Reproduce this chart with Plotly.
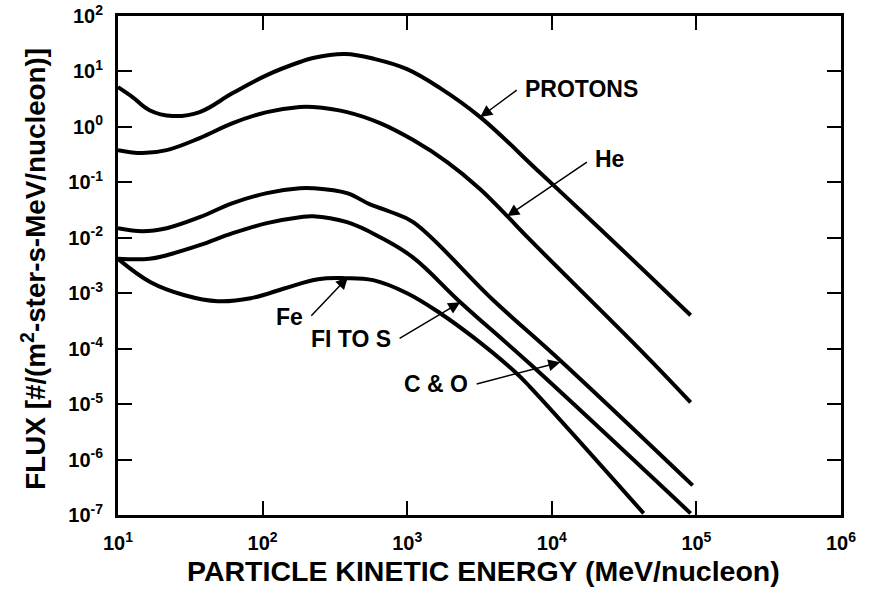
import plotly.graph_objects as go

# ---------------- data ----------------
protons_E = [10, 12.6, 16.5, 23.9, 36.7, 62.1, 107, 181, 223, 372, 600, 998, 1690, 3200, 8340, 21700, 91200]
protons_F = [5.2, 3.45, 2.0, 1.57, 1.85, 4.07, 8.6, 14.8, 17.5, 20.6, 16.7, 11.0, 5.0, 1.50, 0.147, 0.0143, 4.0e-4]

he_E = [10, 14.8, 21.7, 36.7, 62.1, 107, 181, 223, 384, 649, 1100, 1890, 3200, 4920, 7110, 42500, 91200]
he_F = [0.381, 0.337, 0.381, 0.628, 1.17, 1.85, 2.28, 2.28, 1.85, 1.17, 0.578, 0.232, 0.0753, 0.0245,
        9.06e-3, 8.6e-5, 1.08e-5]

co_E = [10, 14.8, 21.7, 36.7, 62.1, 107, 181, 223, 384, 553, 762, 1100, 3940, 11800, 94200]
co_F = [0.0149, 0.01315, 0.0149, 0.0235, 0.0422, 0.0638, 0.0785, 0.0785, 0.0638, 0.0400, 0.0295, 0.0191,
        7.48e-4, 5.69e-5, 3.42e-7]

fis_E = [10, 16.5, 21.7, 36.7, 62.1, 107, 181, 223, 384, 649, 1100, 2330, 7110, 91200]
fis_F = [4.17e-3, 4.17e-3, 4.85e-3, 7.35e-3, 0.0121, 0.01837, 0.0235, 0.0245, 0.0191, 0.01026, 4.4e-3,
         6.89e-4, 5.22e-5, 1.07e-7]

fe_E = [10, 16.8, 28.9, 49.0, 82.8, 143, 242, 372, 581, 998, 1690, 2860, 5600, 7110, 43200]
fe_F = [4.17e-3, 1.58e-3, 9.2e-4, 7.18e-4, 8.13e-4, 1.23e-3, 1.79e-3, 1.87e-3, 1.72e-3, 1.0e-3, 4.36e-4,
        1.61e-4, 3.75e-5, 2.01e-5, 1.07e-7]

series = [("PROTONS", protons_E, protons_F), ("He", he_E, he_F), ("C & O", co_E, co_F),
          ("FI TO S", fis_E, fis_F), ("Fe", fe_E, fe_F)]

x_tickvals = [1e1, 1e2, 1e3, 1e4, 1e5, 1e6]
x_ticktext = ["10<sup>1</sup>", "10<sup>2</sup>", "10<sup>3</sup>", "10<sup>4</sup>", "10<sup>5</sup>", "10<sup>6</sup>"]
y_tickvals = [1e2, 1e1, 1e0, 1e-1, 1e-2, 1e-3, 1e-4, 1e-5, 1e-6, 1e-7]
y_ticktext = ["10<sup>2</sup>", "10<sup>1</sup>", "10<sup>0</sup>", "10<sup>-1</sup>", "10<sup>-2</sup>",
              "10<sup>-3</sup>", "10<sup>-4</sup>", "10<sup>-5</sup>", "10<sup>-6</sup>", "10<sup>-7</sup>"]

x_title = "PARTICLE KINETIC ENERGY (MeV/nucleon)"
y_title = "FLUX [#/(m<sup>2</sup>-ster-s-MeV/nucleon)]"

# label annotations: (text, tip logE, tip logF, tail logE, tail logF, text anchor)
labels = [
    ("PROTONS", 3.505, 0.177, 3.768, 0.682, "left"),
    ("He", 3.692, -1.610, 4.253, -0.617, "left"),
    ("Fe", 2.590, -2.711, 2.327, -3.433, "right"),
    ("FI TO S", 3.367, -3.162, 2.937, -3.830, "right"),
    ("C & O", 4.059, -4.245, 3.470, -4.643, "right"),
]

FONT = "Liberation Sans, Arial, Helvetica, sans-serif"

fig = go.Figure()
for name, E, F in series:
    fig.add_trace(go.Scatter(x=E, y=F, mode="lines", name=name,
                             line=dict(color="black", width=4, shape="spline", smoothing=1.1),
                             showlegend=False, hoverinfo="skip"))

annotations = []
for text, tx, ty, ax, ay, anchor in labels:
    annotations.append(dict(x=tx, y=ty, ax=ax, ay=ay, xref="x", yref="y", axref="x", ayref="y",
                            text="", showarrow=True, arrowhead=2, arrowsize=1.6, arrowwidth=1.5,
                            arrowcolor="black", standoff=0, startstandoff=0))
    annotations.append(dict(x=ax, y=ay, xref="x", yref="y", text="<b>%s</b>" % text, showarrow=False,
                            xanchor=anchor, yanchor="middle", xshift=(5 if anchor == "left" else -5),
                            yshift=(2 if text == "He" else 0),
                            font=dict(family=FONT, size=23, color="black")))

annotations.append(dict(x=0.506, y=-0.112, xref="paper", yref="paper", text="<b>%s</b>" % x_title,
                        showarrow=False, xanchor="center", yanchor="middle",
                        font=dict(family=FONT, size=28.5, color="black")))
annotations.append(dict(x=-0.116, y=0.494, xref="paper", yref="paper", text="<b>%s</b>" % y_title,
                        showarrow=False, xanchor="center", yanchor="middle", textangle=-90,
                        font=dict(family=FONT, size=27.8, color="black")))

axis_common = dict(showline=True, linewidth=3, linecolor="black", mirror="ticks", ticks="inside",
                   ticklen=14, tickwidth=2, tickcolor="black", showgrid=False, zeroline=False,
                   tickfont=dict(family=FONT, size=20, color="black", weight="bold"))

fig.update_layout(
    width=869, height=592,
    margin=dict(l=118, r=28, t=16, b=77, autoexpand=False),
    paper_bgcolor="white", plot_bgcolor="white",
    xaxis=dict(type="log", range=[1, 6], tickvals=x_tickvals, ticktext=x_ticktext,
               ticklabelstandoff=8, **axis_common),
    yaxis=dict(type="log", range=[-7, 2], tickvals=y_tickvals, ticktext=y_ticktext,
               ticklabelstandoff=8, **axis_common),
    annotations=annotations,
)

fig.write_html("out.html")
